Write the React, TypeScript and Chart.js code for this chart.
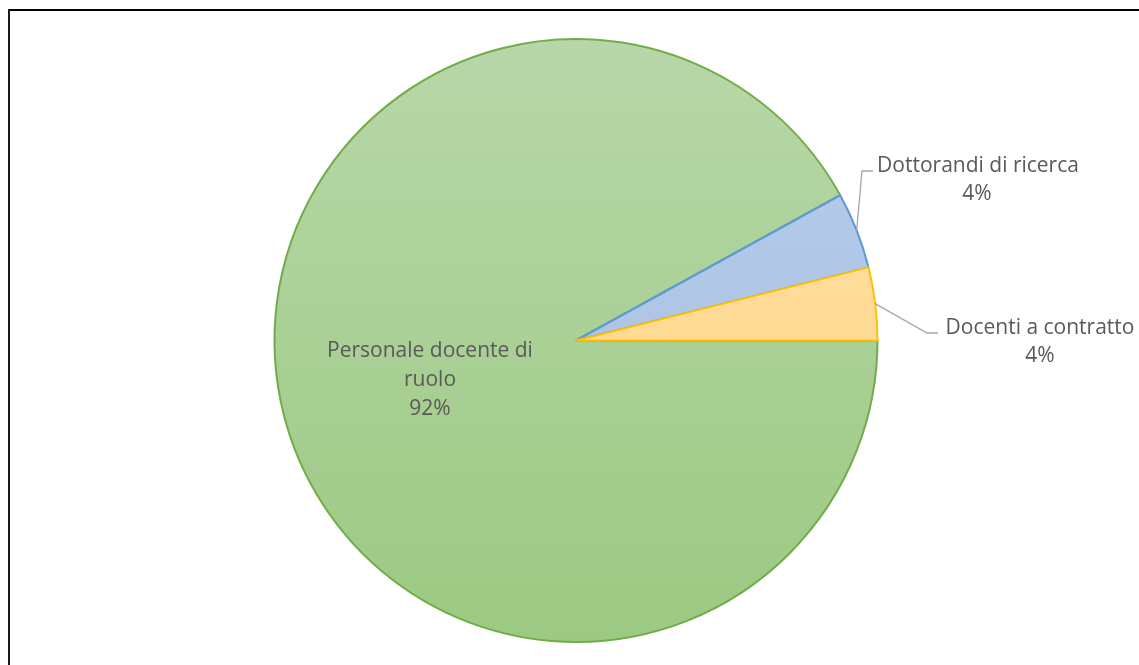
import React, { useEffect, useRef } from "react";
import { Chart, registerables } from "chart.js";

Chart.register(...registerables);

const categories = ["Personale docente di ruolo", "Dottorandi di ricerca", "Docenti a contratto"];
const shares = [92.0, 4.1, 3.9];
const borderColors = ["#70ad47", "#5b9bd5", "#ffc000"];
const gradientTop = ["#b8d7a9", "#b9cdea", "#ffe3ad"];
const gradientBottom = ["#9cc982", "#a3bde3", "#ffd27c"];

const FONT = "'Open Sans', sans-serif";
const TEXT_COLOR = "#595959";
const LEADER_COLOR = "#a6a6a6";

function pctLabel(i: number): string {
  const total = shares.reduce((a, b) => a + b, 0);
  return Math.round((shares[i] / total) * 100) + "%";
}

const labelPlugin = {
  id: "sliceLabels",
  afterDatasetsDraw(chart: any) {
    const ctx = chart.ctx as CanvasRenderingContext2D;
    const meta = chart.getDatasetMeta(0);
    const arcs = meta.data as any[];
    ctx.save();
    ctx.fillStyle = TEXT_COLOR;
    ctx.textAlign = "center";
    ctx.textBaseline = "alphabetic";
    ctx.font = `21px ${FONT}`;

    // inside label for the large slice
    ctx.fillText("Personale docente di", 430, 357);
    ctx.fillText("ruolo", 430, 386);
    ctx.fillText(pctLabel(0), 430, 415);

    const edgePoint = (arc: any) => {
      const mid = (arc.startAngle + arc.endAngle) / 2;
      return { x: arc.x + Math.cos(mid) * arc.outerRadius, y: arc.y + Math.sin(mid) * arc.outerRadius };
    };
    ctx.strokeStyle = LEADER_COLOR;
    ctx.lineWidth = 1.3;

    const p1 = edgePoint(arcs[1]);
    ctx.beginPath();
    ctx.moveTo(p1.x, p1.y);
    ctx.lineTo(862, 171);
    ctx.lineTo(873, 171);
    ctx.stroke();

    const p2 = edgePoint(arcs[2]);
    ctx.beginPath();
    ctx.moveTo(p2.x, p2.y);
    ctx.lineTo(927, 333);
    ctx.lineTo(938, 333);
    ctx.stroke();

    ctx.fillText(categories[1], 978, 172);
    ctx.fillText(pctLabel(1), 977, 200);
    ctx.fillText(categories[2], 1040, 334);
    ctx.fillText(pctLabel(2), 1040, 362);
    ctx.restore();
  },
};

export default function App() {
  const canvasRef = useRef<HTMLCanvasElement | null>(null);

  useEffect(() => {
    const canvas = canvasRef.current;
    if (!canvas) return;
    const bg = (context: any) => {
      const i = context.dataIndex ?? 0;
      const chart = context.chart;
      const area = chart.chartArea;
      if (!area) return gradientTop[i];
      const g = chart.ctx.createLinearGradient(0, area.top, 0, area.bottom);
      g.addColorStop(0, gradientTop[i]);
      g.addColorStop(1, gradientBottom[i]);
      return g;
    };
    const chart = new Chart(canvas, {
      type: "pie",
      data: {
        labels: categories,
        datasets: [
          {
            data: shares,
            backgroundColor: bg,
            borderColor: borderColors,
            borderWidth: 2,
            borderJoinStyle: "round",
          } as any,
        ],
      },
      options: {
        animation: false,
        responsive: false,
        rotation: 90,
        layout: { padding: { left: 13, right: 0, top: 38, bottom: 22 } },
        plugins: {
          legend: { display: false },
          tooltip: { enabled: false },
          title: { display: false },
        },
      },
      plugins: [labelPlugin],
    });
    return () => chart.destroy();
  }, []);

  return (
    <div style={{ position: "fixed", left: 0, top: 0, width: 1139, height: 665, background: "#ffffff" }}>
      <canvas ref={canvasRef} width={1139} height={665} style={{ position: "absolute", left: 0, top: 0, width: 1139, height: 665 }} />
      <div style={{ position: "absolute", left: 8, top: 9, width: 1131, height: 2, background: "#000" }} />
      <div style={{ position: "absolute", left: 8, top: 9, width: 2, height: 656, background: "#1a1a1a" }} />
    </div>
  );
}
